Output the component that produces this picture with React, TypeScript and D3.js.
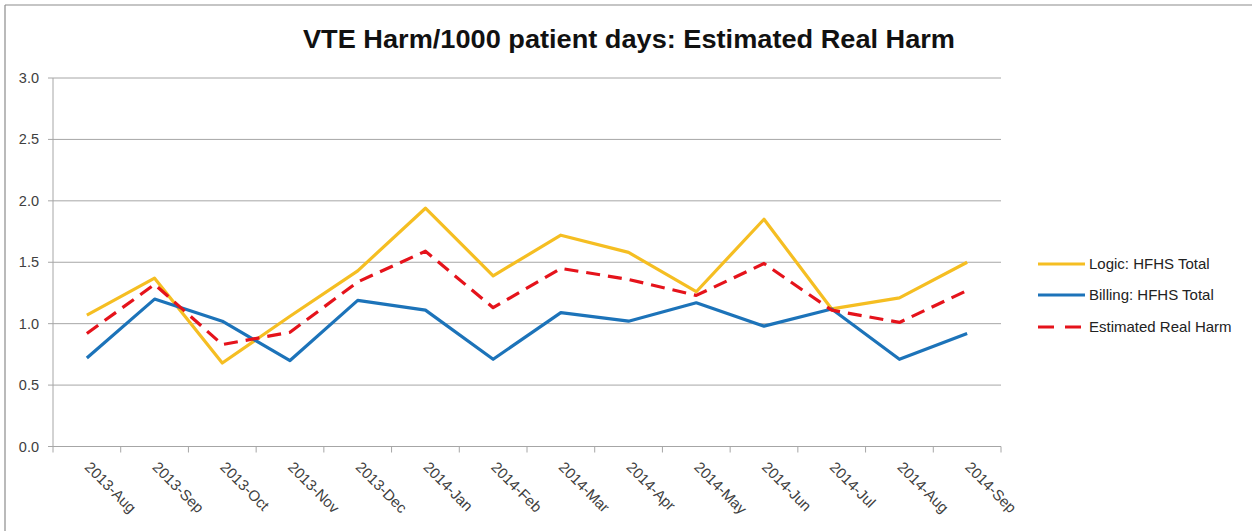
import React from "react";
import * as d3 from "d3";

const categories = [
  "2013-Aug", "2013-Sep", "2013-Oct", "2013-Nov", "2013-Dec", "2014-Jan", "2014-Feb",
  "2014-Mar", "2014-Apr", "2014-May", "2014-Jun", "2014-Jul", "2014-Aug", "2014-Sep",
];
const logicValues = [1.07, 1.37, 0.68, 1.06, 1.43, 1.94, 1.39, 1.72, 1.58, 1.26, 1.85, 1.12, 1.21, 1.50];
const billingValues = [0.72, 1.20, 1.02, 0.70, 1.19, 1.11, 0.71, 1.09, 1.02, 1.17, 0.98, 1.12, 0.71, 0.92];
const estimatedValues = [0.92, 1.32, 0.83, 0.93, 1.34, 1.59, 1.13, 1.45, 1.36, 1.23, 1.49, 1.11, 1.01, 1.27];
const yTicks = [0, 0.5, 1, 1.5, 2, 2.5, 3];
const seriesNames = ["Logic: HFHS Total", "Billing: HFHS Total", "Estimated Real Harm"];
const title = "VTE Harm/1000 patient days: Estimated Real Harm";

const W = 1252;
const H = 531;
const plot = { left: 53, right: 1001, top: 78, bottom: 446.5 };
const FONT = "'Liberation Sans', Arial, sans-serif";

const series = [
  { name: seriesNames[0], values: logicValues, color: "#F5BE22", dash: null as string | null },
  { name: seriesNames[1], values: billingValues, color: "#1C73B9", dash: null as string | null },
  { name: seriesNames[2], values: estimatedValues, color: "#E5131B", dash: "14,8" },
];

export default function App() {
  const x = d3.scaleBand<string>().domain(categories).range([plot.left, plot.right]).padding(0);
  const y = d3.scaleLinear().domain([0, 3]).range([plot.bottom, plot.top]);
  const cx = (c: string) => (x(c) as number) + x.bandwidth() / 2;

  const line = d3
    .line<number>()
    .x((_, i) => cx(categories[i]))
    .y((v) => y(v));

  const boundaries = categories.map((c) => x(c) as number).concat([plot.right]);

  return (
    <svg
      width={W}
      height={H}
      style={{ position: "absolute", left: 0, top: 0, background: "#fff" }}
    >
      <rect x={0} y={0} width={W} height={H} fill="#fff" />
      <line x1={5} y1={5} x2={W} y2={5} stroke="#8c8c8c" strokeWidth={1.2} />
      <line x1={5} y1={5} x2={5} y2={H} stroke="#8c8c8c" strokeWidth={1.2} />

      <text
        x={629}
        y={48}
        textAnchor="middle"
        fontFamily={FONT}
        fontWeight="bold"
        fontSize={25}
        fill="#111"
        textLength={652}
        lengthAdjust="spacingAndGlyphs"
      >
        {title}
      </text>

      {yTicks.map((t) => (
        <g key={t}>
          {t > 0 && (
            <line x1={plot.left} x2={plot.right} y1={y(t)} y2={y(t)} stroke="#a6a6a6" strokeWidth={1} />
          )}
          <line x1={plot.left - 5} x2={plot.left} y1={y(t)} y2={y(t)} stroke="#a6a6a6" strokeWidth={1} />
          <text
            x={39}
            y={y(t)}
            dy="0.35em"
            textAnchor="end"
            fontFamily={FONT}
            fontSize={14.5}
            fill="#404040"
          >
            {t.toFixed(1)}
          </text>
        </g>
      ))}

      <line x1={plot.left} x2={plot.left} y1={plot.top} y2={plot.bottom} stroke="#a6a6a6" strokeWidth={1} />
      <line x1={plot.left} x2={plot.right} y1={plot.bottom} y2={plot.bottom} stroke="#a6a6a6" strokeWidth={1} />
      {boundaries.map((b, i) => (
        <line key={i} x1={b} x2={b} y1={plot.bottom} y2={plot.bottom + 6} stroke="#a6a6a6" strokeWidth={1} />
      ))}
      {categories.map((c) => (
        <text
          key={c}
          transform={`translate(${cx(c) - 3},${468}) rotate(45)`}
          fontFamily={FONT}
          fontSize={15}
          fill="#404040"
        >
          {c}
        </text>
      ))}

      {series.map((s) => (
        <path
          key={s.name}
          d={line(s.values) as string}
          fill="none"
          stroke={s.color}
          strokeWidth={3.2}
          strokeDasharray={s.dash ?? undefined}
          strokeLinejoin="round"
        />
      ))}

      {series.map((s, i) => {
        const ly = [264, 295, 327][i];
        return (
          <g key={s.name}>
            <line
              x1={1038}
              x2={1085}
              y1={ly}
              y2={ly}
              stroke={s.color}
              strokeWidth={3.2}
              strokeDasharray={s.dash ? "16,11" : undefined}
            />
            <text x={1089} y={ly} dy="0.35em" fontFamily={FONT} fontSize={15} fill="#222">
              {s.name}
            </text>
          </g>
        );
      })}
    </svg>
  );
}
